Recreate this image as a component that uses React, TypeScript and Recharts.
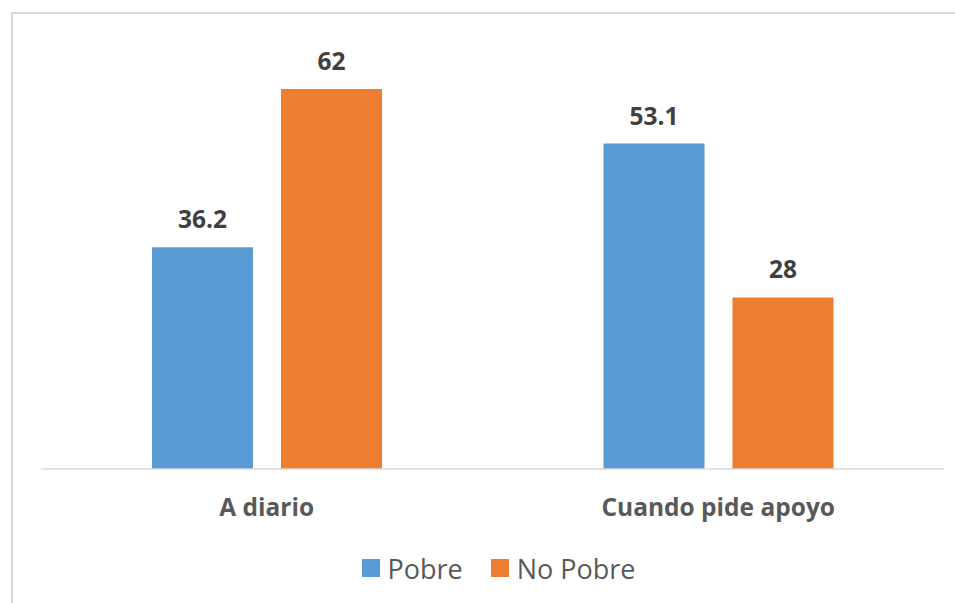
import { BarChart, Bar, XAxis, YAxis, Legend, LabelList } from 'recharts';

const categories = ['A diario', 'Cuando pide apoyo'];
const pobre = [36.2, 53.1];
const noPobre = [62, 28];

const series = [
  { key: 'pobre', name: 'Pobre', color: '#5B9BD5' },
  { key: 'noPobre', name: 'No Pobre', color: '#ED7D31' },
];

const data = categories.map((name, i) => ({
  name,
  pobre: pobre[i],
  noPobre: noPobre[i],
}));

const FONT = '"Open Sans", "Noto Sans", sans-serif';

// legend drawn like the office one: square swatch + text
const renderLegend = () => (
  <div
    style={{
      height: 40,
      display: 'flex',
      justifyContent: 'center',
      alignItems: 'center',
      fontFamily: FONT,
      fontSize: 27,
      color: '#595959',
      paddingLeft: 12,
    }}
  >
    {series.map((s, i) => (
      <div
        key={s.key}
        style={{ display: 'flex', alignItems: 'center', marginLeft: i ? 28 : 0 }}
      >
        <span
          style={{ width: 18, height: 18, background: s.color, marginRight: 8 }}
        />
        <span>{s.name}</span>
      </div>
    ))}
  </div>
);

export default function App() {
  return (
    <div
      style={{
        position: 'absolute',
        left: 0,
        top: 0,
        width: 955,
        height: 603,
        background: '#fff',
        overflow: 'hidden',
      }}
    >
      {/* chart border, runs off the right and bottom edges */}
      <div
        style={{
          position: 'absolute',
          left: 11,
          top: 12,
          width: 960,
          height: 610,
          border: '2px solid #d9d9d9',
        }}
      />
      <div style={{ position: 'absolute', left: 0, top: 0 }}>
        <BarChart
          width={955}
          height={603}
          data={data}
          margin={{ top: 40, right: 11, left: 41, bottom: 15 }}
          barSize={101}
          barGap={28}
        >
          <XAxis
            dataKey="name"
            height={79}
            tickLine={false}
            tickMargin={24}
            axisLine={{ stroke: '#d9d9d9', strokeWidth: 1.5 }}
            tick={{
              fill: '#595959',
              fontSize: 24.5,
              fontWeight: 'bold',
              fontFamily: FONT,
            }}
          />
          <YAxis type="number" domain={[0, 70]} hide />
          <Legend verticalAlign="bottom" content={renderLegend} />
          {series.map((s) => (
            <Bar
              key={s.key}
              dataKey={s.key}
              name={s.name}
              fill={s.color}
              isAnimationActive={false}
            >
              <LabelList
                dataKey={s.key}
                position="top"
                offset={19}
                fill="#404040"
                fontSize={24.5}
                fontWeight="bold"
                fontFamily={FONT}
              />
            </Bar>
          ))}
        </BarChart>
      </div>
    </div>
  );
}
